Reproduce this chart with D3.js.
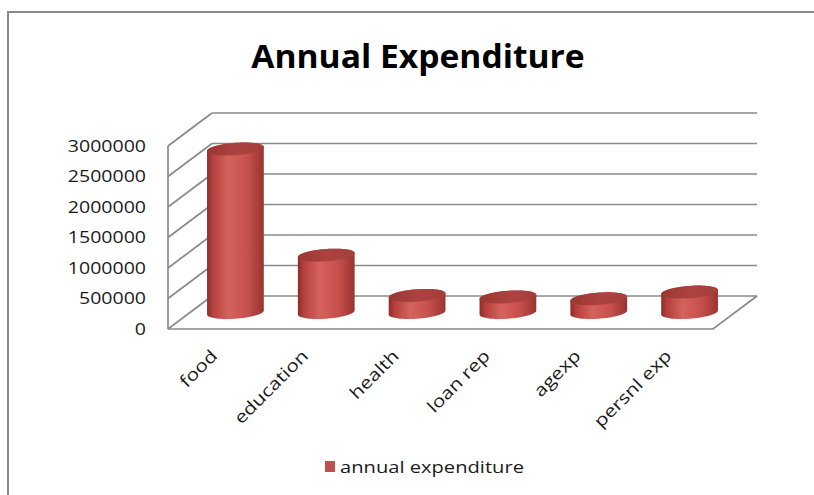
<!DOCTYPE html>
<html>
<head>
<meta charset="utf-8">
<script src="https://cdn.jsdelivr.net/npm/d3@7"></script>
<style>
  html, body { margin: 0; padding: 0; background: #fff; }
  svg { display: block; }
  text { font-family: "Open Sans", "Noto Sans", sans-serif; fill: #1a1a1a; }
</style>
</head>
<body>
<svg id="chart" width="814" height="495"></svg>
<script>
// Chart data
const categories = ["food", "education", "health", "loan rep", "agexp", "persnl exp"];
const expenditure = [2680000, 940000, 280000, 255000, 225000, 335000];
const yTicks = [0, 500000, 1000000, 1500000, 2000000, 2500000, 3000000];
const chartTitle = "Annual Expenditure";
const seriesName = "annual expenditure";

const svg = d3.select("#chart");
const W = 814, H = 495;

// Oblique 3D box: front-left corner of the floor and the depth offset
const frontLeft = 168, floorFront = 329;
const plotW = 545, wallH = 183;
const depth = { dx: 44, dy: -33 };

// Back-wall value scale; the front face is the same shifted by the depth
const yBack = d3.scaleLinear().domain([0, 3000000]).range([floorFront + depth.dy, floorFront + depth.dy - wallH]);
const yFront = v => yBack(v) - depth.dy;
const x = d3.scaleBand().domain(categories).range([frontLeft, frontLeft + plotW]).padding(0);

// Horizontal stretch of the lettering
function fitText(sel, k) {
  sel.each(function () {
    const w = this.getComputedTextLength();
    this.setAttribute("textLength", w * k);
    this.setAttribute("lengthAdjust", "spacingAndGlyphs");
    this.__w = w * k;
  });
}

// Outer frame
svg.append("rect").attr("x", 0).attr("y", 0).attr("width", W).attr("height", H).attr("fill", "#fff");
svg.append("path")
  .attr("d", `M8,${H} L8,12 L${W},12`)
  .attr("fill", "none").attr("stroke", "#8a8a8a").attr("stroke-width", 2);

// Title
const t = svg.append("text")
  .attr("y", 68)
  .style("font-size", "32px").style("font-weight", "700").style("fill", "#000")
  .text(chartTitle);
fitText(t, 1.05);
t.attr("x", 418 - t.node().__w / 2);

// Gridlines: back wall and left side wall
const grid = svg.append("g").attr("stroke", "#8a8a8a").attr("stroke-width", 1.7).attr("fill", "none");
const backLeft = frontLeft + depth.dx, backRight = frontLeft + plotW + depth.dx;
grid.selectAll("line.back").data(yTicks).join("line")
  .attr("class", "back")
  .attr("x1", backLeft).attr("x2", backRight)
  .attr("y1", d => yBack(d)).attr("y2", d => yBack(d));
grid.selectAll("line.side").data(yTicks).join("line")
  .attr("class", "side")
  .attr("x1", frontLeft).attr("y1", d => yFront(d))
  .attr("x2", backLeft).attr("y2", d => yBack(d));
// Vertical edge of the side wall
grid.append("line")
  .attr("x1", frontLeft).attr("x2", frontLeft)
  .attr("y1", yFront(0)).attr("y2", yFront(yTicks[yTicks.length - 1]));
// Floor front edge and right edge
grid.append("path")
  .attr("d", `M${frontLeft},${yFront(0)} L${frontLeft + plotW},${yFront(0)} L${backRight},${yBack(0)}`);

// Y axis labels
const yl = svg.append("g").selectAll("text").data(yTicks).join("text")
  .attr("y", d => yFront(d)).attr("dy", "0.36em")
  .style("font-size", "16px")
  .text(d => d3.format("d")(d));
fitText(yl, 1.22);
yl.attr("x", function () { return 146 - this.__w; });

// Cylinders
const defs = svg.append("defs");
const gBody = defs.append("linearGradient").attr("id", "cylBody").attr("x1", 0).attr("x2", 1).attr("y1", 0).attr("y2", 0);
[[0, "#8e2d2a"], [0.1, "#b3403c"], [0.38, "#d6625d"], [0.72, "#c54f4b"], [1, "#983431"]]
  .forEach(([o, c]) => gBody.append("stop").attr("offset", o).attr("stop-color", c));
const gTop = defs.append("linearGradient").attr("id", "cylTop").attr("x1", 0).attr("x2", 1).attr("y1", 0).attr("y2", 0);
[[0, "#983733"], [0.5, "#ad423f"], [1, "#a53f3c"]]
  .forEach(([o, c]) => gTop.append("stop").attr("offset", o).attr("stop-color", c));

const step = x.step();
const a = step * 0.297;        // half width of the cylinder face
const b = 8.8, c = 6.5;        // depth-direction radius, projected
const t0 = Math.atan2(b, a);   // parameter of the rightmost silhouette point
const ell = (cx, cy, t) => [cx + a * Math.cos(t) + b * Math.sin(t), cy - c * Math.sin(t)];
const line = d3.line();

const bars = svg.append("g").selectAll("g").data(categories.map((k, i) => ({ k, v: expenditure[i] }))).join("g");
bars.each(function (d) {
  const g = d3.select(this);
  const cx = x(d.k) + step / 2 + depth.dx / 2;
  const base = yBack(0) - depth.dy / 2;
  const top = yBack(d.v) - depth.dy / 2;
  const n = 48;
  const bottomArc = d3.range(n + 1).map(i => ell(cx, base, t0 - Math.PI * i / n));
  const topArc = d3.range(n + 1).map(i => ell(cx, top, t0 + Math.PI - Math.PI * i / n));
  g.append("path").attr("d", line(bottomArc.concat(topArc)) + "Z").attr("fill", "url(#cylBody)");
  const full = d3.range(97).map(i => ell(cx, top, 2 * Math.PI * i / 96));
  g.append("path").attr("d", line(full) + "Z").attr("fill", "url(#cylTop)");
});

// Category labels
const cl = svg.append("g").selectAll("g").data(categories).join("g")
  .attr("transform", d => `translate(${x(d) + step / 2 + depth.dx / 2 - 17},357) rotate(-45)`);
const clt = cl.append("text").style("font-size", "17px").text(d => d);
fitText(clt, 1.22);
clt.attr("x", function () { return -this.__w; });

// Legend
svg.append("rect").attr("x", 325).attr("y", 461).attr("width", 10).attr("height", 11).attr("fill", "#c0504d");
const lt = svg.append("text").attr("x", 340).attr("y", 467).attr("dy", "0.36em")
  .style("font-size", "16.5px").text(seriesName);
fitText(lt, 1.22);
</script>
</body>
</html>
